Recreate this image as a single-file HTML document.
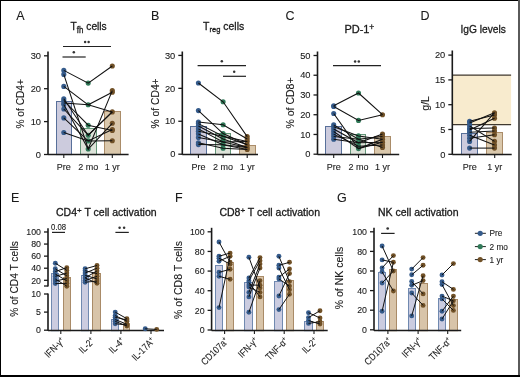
<!DOCTYPE html><html><head><meta charset="utf-8"><style>html,body{margin:0;padding:0;background:#fff;width:520px;height:377px;overflow:hidden}svg{display:block;will-change:transform;font-family:"Liberation Sans",sans-serif}text{stroke:#1a1a1a;stroke-width:0.1px}text.t{stroke-width:0.3px}</style></head><body><svg width="520" height="377" viewBox="0 0 520 377" fill="#1a1a1a">
<rect x="0" y="0" width="520" height="377" fill="#fff"/>
<text x="16.30" y="20.20" font-size="12.5" text-anchor="start" >A</text>
<text x="151.00" y="19.90" font-size="12.5" text-anchor="start" >B</text>
<text x="285.50" y="20.40" font-size="12.5" text-anchor="start" >C</text>
<text x="420.50" y="20.00" font-size="12.5" text-anchor="start" >D</text>
<text x="11.00" y="202.00" font-size="12.5" text-anchor="start" >E</text>
<text x="175.00" y="202.00" font-size="12.5" text-anchor="start" >F</text>
<text x="337.00" y="202.00" font-size="12.5" text-anchor="start" >G</text>
<line x1="48.00" y1="51.50" x2="48.00" y2="155.10" stroke="#1a1a1a" stroke-width="1.6"/>
<line x1="44.00" y1="154.50" x2="48.00" y2="154.50" stroke="#1a1a1a" stroke-width="1.3"/>
<text x="41.00" y="157.70" font-size="9.3" text-anchor="end" >0</text>
<line x1="44.00" y1="121.60" x2="48.00" y2="121.60" stroke="#1a1a1a" stroke-width="1.3"/>
<text x="41.00" y="124.80" font-size="9.3" text-anchor="end" >10</text>
<line x1="44.00" y1="88.70" x2="48.00" y2="88.70" stroke="#1a1a1a" stroke-width="1.3"/>
<text x="41.00" y="91.90" font-size="9.3" text-anchor="end" >20</text>
<line x1="44.00" y1="55.80" x2="48.00" y2="55.80" stroke="#1a1a1a" stroke-width="1.3"/>
<text x="41.00" y="59.00" font-size="9.3" text-anchor="end" >30</text>
<rect x="56.50" y="101.50" width="15.00" height="53.10" fill="#cccbdd" stroke="#58709a" stroke-width="1"/>
<rect x="80.50" y="128.50" width="16.00" height="26.10" fill="#dde3d9" stroke="#649678" stroke-width="1"/>
<rect x="104.50" y="111.50" width="16.00" height="43.10" fill="#dac8ac" stroke="#aa8c69" stroke-width="1"/>
<line x1="48.00" y1="154.50" x2="128.60" y2="154.50" stroke="#1a1a1a" stroke-width="1.3"/>
<line x1="63.80" y1="154.50" x2="63.80" y2="158.00" stroke="#1a1a1a" stroke-width="1.1"/>
<line x1="88.20" y1="154.50" x2="88.20" y2="158.00" stroke="#1a1a1a" stroke-width="1.1"/>
<line x1="112.30" y1="154.50" x2="112.30" y2="158.00" stroke="#1a1a1a" stroke-width="1.1"/>
<circle cx="63.80" cy="70.40" r="2.55" fill="#355b8b"/>
<circle cx="88.20" cy="83.10" r="2.55" fill="#317a59"/>
<circle cx="112.30" cy="66.00" r="2.55" fill="#715127"/>
<circle cx="63.80" cy="74.40" r="2.55" fill="#355b8b"/>
<circle cx="88.20" cy="149.00" r="2.55" fill="#317a59"/>
<circle cx="112.30" cy="90.60" r="2.55" fill="#715127"/>
<circle cx="63.80" cy="86.40" r="2.55" fill="#355b8b"/>
<circle cx="88.20" cy="104.80" r="2.55" fill="#317a59"/>
<circle cx="112.30" cy="92.20" r="2.55" fill="#715127"/>
<circle cx="63.80" cy="98.80" r="2.55" fill="#355b8b"/>
<circle cx="88.20" cy="135.20" r="2.55" fill="#317a59"/>
<circle cx="112.30" cy="111.90" r="2.55" fill="#715127"/>
<circle cx="63.80" cy="103.00" r="2.55" fill="#355b8b"/>
<circle cx="63.80" cy="104.50" r="2.55" fill="#355b8b"/>
<circle cx="112.30" cy="123.30" r="2.55" fill="#715127"/>
<circle cx="63.80" cy="109.00" r="2.55" fill="#355b8b"/>
<circle cx="63.80" cy="117.90" r="2.55" fill="#355b8b"/>
<circle cx="88.20" cy="140.90" r="2.55" fill="#317a59"/>
<circle cx="112.30" cy="129.50" r="2.55" fill="#715127"/>
<circle cx="63.80" cy="132.50" r="2.55" fill="#355b8b"/>
<circle cx="112.30" cy="140.70" r="2.55" fill="#715127"/>
<circle cx="63.80" cy="100.50" r="2.55" fill="#355b8b"/>
<circle cx="88.20" cy="125.20" r="2.55" fill="#317a59"/>
<circle cx="112.30" cy="130.40" r="2.55" fill="#715127"/>
<polyline points="63.80,70.40 88.20,83.10 112.30,66.00" fill="none" stroke="#111" stroke-width="1.05"/>
<polyline points="63.80,74.40 88.20,149.00 112.30,90.60" fill="none" stroke="#111" stroke-width="1.05"/>
<polyline points="63.80,86.40 88.20,104.80 112.30,92.20" fill="none" stroke="#111" stroke-width="1.05"/>
<polyline points="63.80,98.80 88.20,135.20 112.30,111.90" fill="none" stroke="#111" stroke-width="1.05"/>
<polyline points="63.80,103.00 88.20,104.80 112.30,111.90" fill="none" stroke="#111" stroke-width="1.05"/>
<polyline points="63.80,104.50 88.20,149.00 112.30,123.30" fill="none" stroke="#111" stroke-width="1.05"/>
<polyline points="63.80,109.00 88.20,135.20 112.30,111.90" fill="none" stroke="#111" stroke-width="1.05"/>
<polyline points="63.80,117.90 88.20,140.90 112.30,129.50" fill="none" stroke="#111" stroke-width="1.05"/>
<polyline points="63.80,132.50 88.20,140.90 112.30,140.70" fill="none" stroke="#111" stroke-width="1.05"/>
<polyline points="63.80,100.50 88.20,125.20 112.30,130.40" fill="none" stroke="#111" stroke-width="1.05"/>
<line x1="62.50" y1="57.00" x2="85.70" y2="57.00" stroke="#222" stroke-width="1.2"/>
<circle cx="73.80" cy="52.30" r="1.25" fill="#333"/>
<line x1="63.00" y1="46.50" x2="111.00" y2="46.50" stroke="#222" stroke-width="1.2"/>
<circle cx="85.10" cy="41.90" r="1.25" fill="#333"/>
<circle cx="88.60" cy="41.90" r="1.25" fill="#333"/>
<text x="23.80" y="103.80" font-size="10.2" text-anchor="middle" transform="rotate(-90 23.8 103.8)">% of CD4+</text>
<text class="t" x="0" y="0" font-size="11" transform="translate(70.6 30.2) scale(0.93 1)">T<tspan font-size="8.5" dy="2.8">fh</tspan><tspan dy="-2.8"> cells</tspan></text>
<text x="63.80" y="170.20" font-size="9" text-anchor="middle" >Pre</text>
<text x="88.20" y="170.20" font-size="9" text-anchor="middle" >2 mo</text>
<text x="112.30" y="170.20" font-size="9" text-anchor="middle" >1 yr</text>
<line x1="182.30" y1="51.50" x2="182.30" y2="154.80" stroke="#1a1a1a" stroke-width="1.6"/>
<line x1="178.30" y1="154.20" x2="182.30" y2="154.20" stroke="#1a1a1a" stroke-width="1.3"/>
<text x="175.30" y="157.40" font-size="9.3" text-anchor="end" >0</text>
<line x1="178.30" y1="121.27" x2="182.30" y2="121.27" stroke="#1a1a1a" stroke-width="1.3"/>
<text x="175.30" y="124.47" font-size="9.3" text-anchor="end" >10</text>
<line x1="178.30" y1="88.34" x2="182.30" y2="88.34" stroke="#1a1a1a" stroke-width="1.3"/>
<text x="175.30" y="91.54" font-size="9.3" text-anchor="end" >20</text>
<line x1="178.30" y1="55.41" x2="182.30" y2="55.41" stroke="#1a1a1a" stroke-width="1.3"/>
<text x="175.30" y="58.61" font-size="9.3" text-anchor="end" >30</text>
<rect x="190.50" y="126.50" width="16.00" height="28.10" fill="#cccbdd" stroke="#58709a" stroke-width="1"/>
<rect x="215.50" y="133.50" width="15.00" height="21.10" fill="#dde3d9" stroke="#649678" stroke-width="1"/>
<rect x="239.50" y="145.50" width="16.00" height="9.10" fill="#dac8ac" stroke="#aa8c69" stroke-width="1"/>
<line x1="182.30" y1="154.50" x2="258.00" y2="154.50" stroke="#1a1a1a" stroke-width="1.3"/>
<line x1="198.40" y1="154.50" x2="198.40" y2="158.00" stroke="#1a1a1a" stroke-width="1.1"/>
<line x1="223.10" y1="154.50" x2="223.10" y2="158.00" stroke="#1a1a1a" stroke-width="1.1"/>
<line x1="247.20" y1="154.50" x2="247.20" y2="158.00" stroke="#1a1a1a" stroke-width="1.1"/>
<circle cx="198.40" cy="83.00" r="2.55" fill="#355b8b"/>
<circle cx="223.10" cy="101.80" r="2.55" fill="#317a59"/>
<circle cx="247.20" cy="136.60" r="2.55" fill="#715127"/>
<circle cx="198.40" cy="110.60" r="2.55" fill="#355b8b"/>
<circle cx="223.10" cy="133.60" r="2.55" fill="#317a59"/>
<circle cx="247.20" cy="144.80" r="2.55" fill="#715127"/>
<circle cx="198.40" cy="122.00" r="2.55" fill="#355b8b"/>
<circle cx="223.10" cy="124.70" r="2.55" fill="#317a59"/>
<circle cx="247.20" cy="139.00" r="2.55" fill="#715127"/>
<circle cx="198.40" cy="123.60" r="2.55" fill="#355b8b"/>
<circle cx="223.10" cy="136.20" r="2.55" fill="#317a59"/>
<circle cx="247.20" cy="141.50" r="2.55" fill="#715127"/>
<circle cx="198.40" cy="126.00" r="2.55" fill="#355b8b"/>
<circle cx="223.10" cy="138.90" r="2.55" fill="#317a59"/>
<circle cx="247.20" cy="147.50" r="2.55" fill="#715127"/>
<circle cx="198.40" cy="128.90" r="2.55" fill="#355b8b"/>
<circle cx="223.10" cy="141.90" r="2.55" fill="#317a59"/>
<circle cx="198.40" cy="131.30" r="2.55" fill="#355b8b"/>
<circle cx="198.40" cy="134.00" r="2.55" fill="#355b8b"/>
<circle cx="223.10" cy="144.80" r="2.55" fill="#317a59"/>
<circle cx="247.20" cy="149.50" r="2.55" fill="#715127"/>
<circle cx="198.40" cy="137.50" r="2.55" fill="#355b8b"/>
<circle cx="198.40" cy="142.80" r="2.55" fill="#355b8b"/>
<circle cx="223.10" cy="148.20" r="2.55" fill="#317a59"/>
<circle cx="198.40" cy="144.60" r="2.55" fill="#355b8b"/>
<polyline points="198.40,83.00 223.10,101.80 247.20,136.60" fill="none" stroke="#111" stroke-width="1.05"/>
<polyline points="198.40,110.60 223.10,133.60 247.20,144.80" fill="none" stroke="#111" stroke-width="1.05"/>
<polyline points="198.40,122.00 223.10,124.70 247.20,139.00" fill="none" stroke="#111" stroke-width="1.05"/>
<polyline points="198.40,123.60 223.10,136.20 247.20,141.50" fill="none" stroke="#111" stroke-width="1.05"/>
<polyline points="198.40,126.00 223.10,138.90 247.20,147.50" fill="none" stroke="#111" stroke-width="1.05"/>
<polyline points="198.40,128.90 223.10,141.90 247.20,141.50" fill="none" stroke="#111" stroke-width="1.05"/>
<polyline points="198.40,131.30 223.10,136.20 247.20,144.80" fill="none" stroke="#111" stroke-width="1.05"/>
<polyline points="198.40,134.00 223.10,144.80 247.20,149.50" fill="none" stroke="#111" stroke-width="1.05"/>
<polyline points="198.40,137.50 223.10,141.90 247.20,147.50" fill="none" stroke="#111" stroke-width="1.05"/>
<polyline points="198.40,142.80 223.10,148.20 247.20,149.50" fill="none" stroke="#111" stroke-width="1.05"/>
<polyline points="198.40,144.60 223.10,144.80 247.20,147.50" fill="none" stroke="#111" stroke-width="1.05"/>
<line x1="197.60" y1="65.70" x2="246.00" y2="65.70" stroke="#222" stroke-width="1.2"/>
<circle cx="221.80" cy="61.30" r="1.25" fill="#333"/>
<line x1="223.00" y1="76.30" x2="246.00" y2="76.30" stroke="#222" stroke-width="1.2"/>
<circle cx="234.20" cy="71.70" r="1.25" fill="#333"/>
<text x="158.80" y="103.40" font-size="10.3" text-anchor="middle" transform="rotate(-90 158.8 103.4)">% of CD4+</text>
<text class="t" x="0" y="0" font-size="11" transform="translate(203 29.6) scale(0.95 1)">T<tspan font-size="8" dy="2.8">reg</tspan><tspan dy="-2.8"> cells</tspan></text>
<text x="198.40" y="170.20" font-size="9" text-anchor="middle" >Pre</text>
<text x="223.10" y="170.20" font-size="9" text-anchor="middle" >2 mo</text>
<text x="247.20" y="170.20" font-size="9" text-anchor="middle" >1 yr</text>
<line x1="317.50" y1="51.50" x2="317.50" y2="154.80" stroke="#1a1a1a" stroke-width="1.6"/>
<line x1="313.50" y1="154.20" x2="317.50" y2="154.20" stroke="#1a1a1a" stroke-width="1.3"/>
<text x="310.50" y="157.40" font-size="9.3" text-anchor="end" >0</text>
<line x1="313.50" y1="134.46" x2="317.50" y2="134.46" stroke="#1a1a1a" stroke-width="1.3"/>
<text x="310.50" y="137.66" font-size="9.3" text-anchor="end" >10</text>
<line x1="313.50" y1="114.72" x2="317.50" y2="114.72" stroke="#1a1a1a" stroke-width="1.3"/>
<text x="310.50" y="117.92" font-size="9.3" text-anchor="end" >20</text>
<line x1="313.50" y1="94.98" x2="317.50" y2="94.98" stroke="#1a1a1a" stroke-width="1.3"/>
<text x="310.50" y="98.18" font-size="9.3" text-anchor="end" >30</text>
<line x1="313.50" y1="75.24" x2="317.50" y2="75.24" stroke="#1a1a1a" stroke-width="1.3"/>
<text x="310.50" y="78.44" font-size="9.3" text-anchor="end" >40</text>
<line x1="313.50" y1="55.50" x2="317.50" y2="55.50" stroke="#1a1a1a" stroke-width="1.3"/>
<text x="310.50" y="58.70" font-size="9.3" text-anchor="end" >50</text>
<rect x="325.50" y="126.50" width="16.00" height="28.10" fill="#cccbdd" stroke="#58709a" stroke-width="1"/>
<rect x="350.50" y="134.50" width="15.00" height="20.10" fill="#dde3d9" stroke="#649678" stroke-width="1"/>
<rect x="374.50" y="136.50" width="16.00" height="18.10" fill="#dac8ac" stroke="#aa8c69" stroke-width="1"/>
<line x1="317.50" y1="154.50" x2="399.20" y2="154.50" stroke="#1a1a1a" stroke-width="1.3"/>
<line x1="333.70" y1="154.50" x2="333.70" y2="158.00" stroke="#1a1a1a" stroke-width="1.1"/>
<line x1="358.50" y1="154.50" x2="358.50" y2="158.00" stroke="#1a1a1a" stroke-width="1.1"/>
<line x1="382.50" y1="154.50" x2="382.50" y2="158.00" stroke="#1a1a1a" stroke-width="1.1"/>
<circle cx="333.70" cy="105.80" r="2.55" fill="#355b8b"/>
<circle cx="358.50" cy="93.00" r="2.55" fill="#317a59"/>
<circle cx="382.50" cy="114.70" r="2.55" fill="#715127"/>
<circle cx="333.70" cy="106.50" r="2.55" fill="#355b8b"/>
<circle cx="358.50" cy="120.40" r="2.55" fill="#317a59"/>
<circle cx="333.70" cy="113.50" r="2.55" fill="#355b8b"/>
<circle cx="358.50" cy="148.60" r="2.55" fill="#317a59"/>
<circle cx="382.50" cy="142.20" r="2.55" fill="#715127"/>
<circle cx="333.70" cy="124.90" r="2.55" fill="#355b8b"/>
<circle cx="358.50" cy="139.30" r="2.55" fill="#317a59"/>
<circle cx="382.50" cy="136.50" r="2.55" fill="#715127"/>
<circle cx="333.70" cy="126.70" r="2.55" fill="#355b8b"/>
<circle cx="358.50" cy="135.90" r="2.55" fill="#317a59"/>
<circle cx="382.50" cy="139.30" r="2.55" fill="#715127"/>
<circle cx="333.70" cy="129.00" r="2.55" fill="#355b8b"/>
<circle cx="358.50" cy="142.80" r="2.55" fill="#317a59"/>
<circle cx="382.50" cy="134.10" r="2.55" fill="#715127"/>
<circle cx="333.70" cy="134.10" r="2.55" fill="#355b8b"/>
<circle cx="358.50" cy="146.30" r="2.55" fill="#317a59"/>
<circle cx="382.50" cy="145.10" r="2.55" fill="#715127"/>
<circle cx="333.70" cy="136.50" r="2.55" fill="#355b8b"/>
<circle cx="382.50" cy="147.40" r="2.55" fill="#715127"/>
<circle cx="333.70" cy="139.30" r="2.55" fill="#355b8b"/>
<circle cx="333.70" cy="131.50" r="2.55" fill="#355b8b"/>
<polyline points="333.70,105.80 358.50,93.00 382.50,114.70" fill="none" stroke="#111" stroke-width="1.05"/>
<polyline points="333.70,106.50 358.50,120.40 382.50,114.70" fill="none" stroke="#111" stroke-width="1.05"/>
<polyline points="333.70,113.50 358.50,148.60 382.50,142.20" fill="none" stroke="#111" stroke-width="1.05"/>
<polyline points="333.70,124.90 358.50,139.30 382.50,136.50" fill="none" stroke="#111" stroke-width="1.05"/>
<polyline points="333.70,126.70 358.50,135.90 382.50,139.30" fill="none" stroke="#111" stroke-width="1.05"/>
<polyline points="333.70,129.00 358.50,142.80 382.50,134.10" fill="none" stroke="#111" stroke-width="1.05"/>
<polyline points="333.70,134.10 358.50,146.30 382.50,145.10" fill="none" stroke="#111" stroke-width="1.05"/>
<polyline points="333.70,136.50 358.50,139.30 382.50,147.40" fill="none" stroke="#111" stroke-width="1.05"/>
<polyline points="333.70,139.30 358.50,142.80 382.50,142.20" fill="none" stroke="#111" stroke-width="1.05"/>
<polyline points="333.70,131.50 358.50,148.60 382.50,139.30" fill="none" stroke="#111" stroke-width="1.05"/>
<line x1="333.00" y1="65.60" x2="381.00" y2="65.60" stroke="#222" stroke-width="1.2"/>
<circle cx="355.10" cy="61.60" r="1.25" fill="#333"/>
<circle cx="358.80" cy="61.60" r="1.25" fill="#333"/>
<text x="294.40" y="103.00" font-size="10.5" text-anchor="middle" transform="rotate(-90 294.4 103)">% of CD8+</text>
<text class="t" x="344.4" y="32.5" font-size="11">PD-1<tspan font-size="8.5" dy="-2.8" dx="-0.3">+</tspan></text>
<text x="333.70" y="170.20" font-size="9" text-anchor="middle" >Pre</text>
<text x="358.50" y="170.20" font-size="9" text-anchor="middle" >2 mo</text>
<text x="382.50" y="170.20" font-size="9" text-anchor="middle" >1 yr</text>
<rect x="452.3" y="75" width="58.8" height="49.6" fill="#f8ebce"/>
<line x1="452.30" y1="75.00" x2="511.10" y2="75.00" stroke="#40392f" stroke-width="1.25"/>
<line x1="452.30" y1="124.60" x2="511.10" y2="124.60" stroke="#40392f" stroke-width="1.25"/>
<line x1="452.30" y1="50.50" x2="452.30" y2="154.80" stroke="#1a1a1a" stroke-width="1.6"/>
<line x1="448.30" y1="154.30" x2="452.30" y2="154.30" stroke="#1a1a1a" stroke-width="1.3"/>
<text x="445.30" y="157.50" font-size="9.3" text-anchor="end" >0</text>
<line x1="448.30" y1="129.50" x2="452.30" y2="129.50" stroke="#1a1a1a" stroke-width="1.3"/>
<text x="445.30" y="132.70" font-size="9.3" text-anchor="end" >5</text>
<line x1="448.30" y1="104.70" x2="452.30" y2="104.70" stroke="#1a1a1a" stroke-width="1.3"/>
<text x="445.30" y="107.90" font-size="9.3" text-anchor="end" >10</text>
<line x1="448.30" y1="79.90" x2="452.30" y2="79.90" stroke="#1a1a1a" stroke-width="1.3"/>
<text x="445.30" y="83.10" font-size="9.3" text-anchor="end" >15</text>
<line x1="448.30" y1="55.10" x2="452.30" y2="55.10" stroke="#1a1a1a" stroke-width="1.3"/>
<text x="445.30" y="58.30" font-size="9.3" text-anchor="end" >20</text>
<rect x="461.50" y="133.50" width="16.00" height="21.10" fill="#cccbdd" stroke="#58709a" stroke-width="1"/>
<rect x="486.50" y="132.50" width="16.00" height="22.10" fill="#dac8ac" stroke="#aa8c69" stroke-width="1"/>
<line x1="452.30" y1="154.50" x2="511.70" y2="154.50" stroke="#1a1a1a" stroke-width="1.3"/>
<line x1="469.70" y1="154.50" x2="469.70" y2="158.00" stroke="#1a1a1a" stroke-width="1.1"/>
<line x1="494.70" y1="154.50" x2="494.70" y2="158.00" stroke="#1a1a1a" stroke-width="1.1"/>
<circle cx="469.60" cy="121.20" r="2.55" fill="#355b8b"/>
<circle cx="494.50" cy="115.10" r="2.55" fill="#715127"/>
<circle cx="469.60" cy="123.00" r="2.55" fill="#355b8b"/>
<circle cx="494.50" cy="112.70" r="2.55" fill="#715127"/>
<circle cx="469.60" cy="126.00" r="2.55" fill="#355b8b"/>
<circle cx="494.50" cy="141.40" r="2.55" fill="#715127"/>
<circle cx="469.60" cy="128.60" r="2.55" fill="#355b8b"/>
<circle cx="494.50" cy="128.00" r="2.55" fill="#715127"/>
<circle cx="469.60" cy="132.20" r="2.55" fill="#355b8b"/>
<circle cx="494.50" cy="131.00" r="2.55" fill="#715127"/>
<circle cx="469.60" cy="135.30" r="2.55" fill="#355b8b"/>
<circle cx="494.50" cy="145.00" r="2.55" fill="#715127"/>
<circle cx="469.60" cy="138.30" r="2.55" fill="#355b8b"/>
<circle cx="494.50" cy="134.70" r="2.55" fill="#715127"/>
<circle cx="469.60" cy="141.40" r="2.55" fill="#355b8b"/>
<circle cx="469.60" cy="148.10" r="2.55" fill="#355b8b"/>
<circle cx="494.50" cy="148.10" r="2.55" fill="#715127"/>
<circle cx="469.60" cy="130.00" r="2.55" fill="#355b8b"/>
<circle cx="494.50" cy="118.20" r="2.55" fill="#715127"/>
<polyline points="469.60,121.20 494.50,115.10" fill="none" stroke="#111" stroke-width="1.05"/>
<polyline points="469.60,123.00 494.50,112.70" fill="none" stroke="#111" stroke-width="1.05"/>
<polyline points="469.60,126.00 494.50,141.40" fill="none" stroke="#111" stroke-width="1.05"/>
<polyline points="469.60,128.60 494.50,128.00" fill="none" stroke="#111" stroke-width="1.05"/>
<polyline points="469.60,132.20 494.50,131.00" fill="none" stroke="#111" stroke-width="1.05"/>
<polyline points="469.60,135.30 494.50,145.00" fill="none" stroke="#111" stroke-width="1.05"/>
<polyline points="469.60,138.30 494.50,134.70" fill="none" stroke="#111" stroke-width="1.05"/>
<polyline points="469.60,141.40 494.50,112.70" fill="none" stroke="#111" stroke-width="1.05"/>
<polyline points="469.60,148.10 494.50,148.10" fill="none" stroke="#111" stroke-width="1.05"/>
<polyline points="469.60,130.00 494.50,118.20" fill="none" stroke="#111" stroke-width="1.05"/>
<text x="429.00" y="103.40" font-size="10.5" text-anchor="middle" transform="rotate(-90 429 103.4)">g/L</text>
<text class="t" x="0" y="0" font-size="11" transform="translate(460.4 32.5) scale(0.93 1)">IgG levels</text>
<text x="469.70" y="170.20" font-size="9" text-anchor="middle" >Pre</text>
<text x="494.70" y="170.20" font-size="9" text-anchor="middle" >1 yr</text>
<rect x="51.50" y="273.50" width="7.00" height="57.20" fill="#cbcce0" stroke="#7089b0" stroke-width="1"/>
<rect x="63.50" y="277.50" width="7.00" height="53.20" fill="#d8c4a9" stroke="#a98b68" stroke-width="1"/>
<rect x="81.50" y="275.50" width="7.00" height="55.20" fill="#cbcce0" stroke="#7089b0" stroke-width="1"/>
<rect x="92.50" y="273.50" width="8.00" height="57.20" fill="#d8c4a9" stroke="#a98b68" stroke-width="1"/>
<rect x="111.50" y="319.50" width="7.00" height="11.20" fill="#cbcce0" stroke="#7089b0" stroke-width="1"/>
<rect x="123.50" y="323.50" width="6.00" height="7.20" fill="#d8c4a9" stroke="#a98b68" stroke-width="1"/>
<line x1="48.00" y1="228.30" x2="48.00" y2="286.60" stroke="#1a1a1a" stroke-width="1.6"/>
<line x1="44.00" y1="280.30" x2="48.00" y2="280.30" stroke="#1a1a1a" stroke-width="1.3"/>
<text x="41.00" y="283.50" font-size="8.8" text-anchor="end" >20</text>
<line x1="44.00" y1="268.22" x2="48.00" y2="268.22" stroke="#1a1a1a" stroke-width="1.3"/>
<text x="41.00" y="271.42" font-size="8.8" text-anchor="end" >40</text>
<line x1="44.00" y1="256.14" x2="48.00" y2="256.14" stroke="#1a1a1a" stroke-width="1.3"/>
<text x="41.00" y="259.34" font-size="8.8" text-anchor="end" >60</text>
<line x1="44.00" y1="244.06" x2="48.00" y2="244.06" stroke="#1a1a1a" stroke-width="1.3"/>
<text x="41.00" y="247.26" font-size="8.8" text-anchor="end" >80</text>
<line x1="44.00" y1="231.98" x2="48.00" y2="231.98" stroke="#1a1a1a" stroke-width="1.3"/>
<text x="41.00" y="235.18" font-size="8.8" text-anchor="end" >100</text>
<line x1="44.00" y1="286.00" x2="48.00" y2="286.00" stroke="#1a1a1a" stroke-width="1.3"/>
<line x1="48.00" y1="293.40" x2="48.00" y2="330.80" stroke="#1a1a1a" stroke-width="1.6"/>
<line x1="44.00" y1="330.20" x2="48.00" y2="330.20" stroke="#1a1a1a" stroke-width="1.3"/>
<text x="41.00" y="333.40" font-size="8.8" text-anchor="end" >0</text>
<line x1="44.00" y1="312.10" x2="48.00" y2="312.10" stroke="#1a1a1a" stroke-width="1.3"/>
<text x="41.00" y="315.30" font-size="8.8" text-anchor="end" >5</text>
<line x1="44.00" y1="294.00" x2="48.00" y2="294.00" stroke="#1a1a1a" stroke-width="1.3"/>
<text x="41.00" y="297.20" font-size="8.8" text-anchor="end" >10</text>
<line x1="48.00" y1="330.50" x2="164.00" y2="330.50" stroke="#1a1a1a" stroke-width="1.3"/>
<line x1="60.80" y1="330.50" x2="60.80" y2="334.00" stroke="#1a1a1a" stroke-width="1.1"/>
<line x1="90.90" y1="330.50" x2="90.90" y2="334.00" stroke="#1a1a1a" stroke-width="1.1"/>
<line x1="120.90" y1="330.50" x2="120.90" y2="334.00" stroke="#1a1a1a" stroke-width="1.1"/>
<line x1="151.00" y1="330.50" x2="151.00" y2="334.00" stroke="#1a1a1a" stroke-width="1.1"/>
<circle cx="55.30" cy="263.20" r="2.45" fill="#355b8b"/>
<circle cx="66.80" cy="270.40" r="2.45" fill="#715127"/>
<circle cx="55.30" cy="268.80" r="2.45" fill="#355b8b"/>
<circle cx="66.80" cy="275.80" r="2.45" fill="#715127"/>
<circle cx="55.30" cy="271.50" r="2.45" fill="#355b8b"/>
<circle cx="66.80" cy="267.70" r="2.45" fill="#715127"/>
<circle cx="55.30" cy="274.00" r="2.45" fill="#355b8b"/>
<circle cx="66.80" cy="280.80" r="2.45" fill="#715127"/>
<circle cx="55.30" cy="276.30" r="2.45" fill="#355b8b"/>
<circle cx="66.80" cy="273.10" r="2.45" fill="#715127"/>
<circle cx="55.30" cy="279.00" r="2.45" fill="#355b8b"/>
<circle cx="66.80" cy="286.20" r="2.45" fill="#715127"/>
<circle cx="55.30" cy="281.10" r="2.45" fill="#355b8b"/>
<circle cx="66.80" cy="278.50" r="2.45" fill="#715127"/>
<circle cx="55.30" cy="283.60" r="2.45" fill="#355b8b"/>
<circle cx="66.80" cy="283.30" r="2.45" fill="#715127"/>
<polyline points="55.30,263.20 66.80,270.40" fill="none" stroke="#111" stroke-width="1"/>
<polyline points="55.30,268.80 66.80,275.80" fill="none" stroke="#111" stroke-width="1"/>
<polyline points="55.30,271.50 66.80,267.70" fill="none" stroke="#111" stroke-width="1"/>
<polyline points="55.30,274.00 66.80,280.80" fill="none" stroke="#111" stroke-width="1"/>
<polyline points="55.30,276.30 66.80,273.10" fill="none" stroke="#111" stroke-width="1"/>
<polyline points="55.30,279.00 66.80,286.20" fill="none" stroke="#111" stroke-width="1"/>
<polyline points="55.30,281.10 66.80,278.50" fill="none" stroke="#111" stroke-width="1"/>
<polyline points="55.30,283.60 66.80,283.30" fill="none" stroke="#111" stroke-width="1"/>
<circle cx="85.10" cy="268.80" r="2.45" fill="#355b8b"/>
<circle cx="97.00" cy="265.50" r="2.45" fill="#715127"/>
<circle cx="85.10" cy="270.70" r="2.45" fill="#355b8b"/>
<circle cx="97.00" cy="273.60" r="2.45" fill="#715127"/>
<circle cx="85.10" cy="273.10" r="2.45" fill="#355b8b"/>
<circle cx="97.00" cy="268.20" r="2.45" fill="#715127"/>
<circle cx="85.10" cy="275.20" r="2.45" fill="#355b8b"/>
<circle cx="97.00" cy="279.00" r="2.45" fill="#715127"/>
<circle cx="85.10" cy="277.90" r="2.45" fill="#355b8b"/>
<circle cx="97.00" cy="270.90" r="2.45" fill="#715127"/>
<circle cx="85.10" cy="280.60" r="2.45" fill="#355b8b"/>
<circle cx="97.00" cy="276.30" r="2.45" fill="#715127"/>
<circle cx="85.10" cy="282.20" r="2.45" fill="#355b8b"/>
<circle cx="97.00" cy="281.10" r="2.45" fill="#715127"/>
<circle cx="97.00" cy="283.30" r="2.45" fill="#715127"/>
<polyline points="85.10,268.80 97.00,265.50" fill="none" stroke="#111" stroke-width="1"/>
<polyline points="85.10,270.70 97.00,273.60" fill="none" stroke="#111" stroke-width="1"/>
<polyline points="85.10,273.10 97.00,268.20" fill="none" stroke="#111" stroke-width="1"/>
<polyline points="85.10,275.20 97.00,279.00" fill="none" stroke="#111" stroke-width="1"/>
<polyline points="85.10,277.90 97.00,270.90" fill="none" stroke="#111" stroke-width="1"/>
<polyline points="85.10,280.60 97.00,276.30" fill="none" stroke="#111" stroke-width="1"/>
<polyline points="85.10,282.20 97.00,281.10" fill="none" stroke="#111" stroke-width="1"/>
<polyline points="85.10,277.90 97.00,283.30" fill="none" stroke="#111" stroke-width="1"/>
<circle cx="115.20" cy="312.10" r="2.45" fill="#355b8b"/>
<circle cx="126.90" cy="318.70" r="2.45" fill="#715127"/>
<circle cx="115.20" cy="315.60" r="2.45" fill="#355b8b"/>
<circle cx="126.90" cy="321.30" r="2.45" fill="#715127"/>
<circle cx="115.20" cy="317.30" r="2.45" fill="#355b8b"/>
<circle cx="126.90" cy="320.00" r="2.45" fill="#715127"/>
<circle cx="115.20" cy="319.60" r="2.45" fill="#355b8b"/>
<circle cx="126.90" cy="324.20" r="2.45" fill="#715127"/>
<circle cx="115.20" cy="321.30" r="2.45" fill="#355b8b"/>
<circle cx="126.90" cy="326.00" r="2.45" fill="#715127"/>
<circle cx="115.20" cy="323.70" r="2.45" fill="#355b8b"/>
<circle cx="126.90" cy="325.00" r="2.45" fill="#715127"/>
<polyline points="115.20,312.10 126.90,318.70" fill="none" stroke="#111" stroke-width="1"/>
<polyline points="115.20,315.60 126.90,321.30" fill="none" stroke="#111" stroke-width="1"/>
<polyline points="115.20,317.30 126.90,320.00" fill="none" stroke="#111" stroke-width="1"/>
<polyline points="115.20,319.60 126.90,324.20" fill="none" stroke="#111" stroke-width="1"/>
<polyline points="115.20,321.30 126.90,326.00" fill="none" stroke="#111" stroke-width="1"/>
<polyline points="115.20,323.70 126.90,325.00" fill="none" stroke="#111" stroke-width="1"/>
<circle cx="145.20" cy="328.80" r="2.45" fill="#355b8b"/>
<circle cx="156.70" cy="329.40" r="2.45" fill="#715127"/>
<polyline points="145.20,328.80 156.70,329.40" fill="none" stroke="#111" stroke-width="1"/>
<line x1="52.00" y1="232.40" x2="65.00" y2="232.40" stroke="#222" stroke-width="1.2"/>
<text x="0" y="0" font-size="8.6" text-anchor="middle" transform="translate(58.6 229.6) scale(0.9 1)">0.08</text>
<line x1="115.40" y1="232.40" x2="128.80" y2="232.40" stroke="#222" stroke-width="1.2"/>
<circle cx="119.60" cy="227.80" r="1.25" fill="#333"/>
<circle cx="124.10" cy="227.80" r="1.25" fill="#333"/>
<text x="17.80" y="279.00" font-size="10.2" text-anchor="middle" transform="rotate(-90 17.8 279)">% of CD4 T cells</text>
<text class="t" x="56" y="216" font-size="10.5">CD4<tspan font-size="8" dy="-3.2">+</tspan><tspan dy="3.2"> T cell activation</tspan></text>
<text x="0" y="0" font-size="9.8" text-anchor="end" transform="translate(65.30 341.50) rotate(-45) scale(0.86 1)">IFN-γ<tspan font-size="6.5" dy="-3.5">+</tspan></text>
<text x="0" y="0" font-size="9.8" text-anchor="end" transform="translate(95.40 341.50) rotate(-45) scale(0.86 1)">IL-2<tspan font-size="6.5" dy="-3.5">+</tspan></text>
<text x="0" y="0" font-size="9.8" text-anchor="end" transform="translate(125.40 341.50) rotate(-45) scale(0.86 1)">IL-4<tspan font-size="6.5" dy="-3.5">+</tspan></text>
<text x="0" y="0" font-size="9.8" text-anchor="end" transform="translate(155.50 341.50) rotate(-45) scale(0.86 1)">IL-17A<tspan font-size="6.5" dy="-3.5">+</tspan></text>
<rect x="215.50" y="265.50" width="7.00" height="65.20" fill="#cbcce0" stroke="#7089b0" stroke-width="1"/>
<rect x="226.50" y="262.50" width="7.00" height="68.20" fill="#d8c4a9" stroke="#a98b68" stroke-width="1"/>
<rect x="244.50" y="282.50" width="8.00" height="48.20" fill="#cbcce0" stroke="#7089b0" stroke-width="1"/>
<rect x="256.50" y="276.50" width="7.00" height="54.20" fill="#d8c4a9" stroke="#a98b68" stroke-width="1"/>
<rect x="274.50" y="281.50" width="8.00" height="49.20" fill="#cbcce0" stroke="#7089b0" stroke-width="1"/>
<rect x="286.50" y="280.50" width="7.00" height="50.20" fill="#d8c4a9" stroke="#a98b68" stroke-width="1"/>
<rect x="304.50" y="321.50" width="8.00" height="9.20" fill="#cbcce0" stroke="#7089b0" stroke-width="1"/>
<rect x="316.50" y="321.50" width="7.00" height="9.20" fill="#d8c4a9" stroke="#a98b68" stroke-width="1"/>
<line x1="211.60" y1="227.80" x2="211.60" y2="330.60" stroke="#1a1a1a" stroke-width="1.6"/>
<line x1="207.60" y1="330.00" x2="211.60" y2="330.00" stroke="#1a1a1a" stroke-width="1.3"/>
<text x="204.60" y="333.20" font-size="8.8" text-anchor="end" >0</text>
<line x1="207.60" y1="310.36" x2="211.60" y2="310.36" stroke="#1a1a1a" stroke-width="1.3"/>
<text x="204.60" y="313.56" font-size="8.8" text-anchor="end" >20</text>
<line x1="207.60" y1="290.72" x2="211.60" y2="290.72" stroke="#1a1a1a" stroke-width="1.3"/>
<text x="204.60" y="293.92" font-size="8.8" text-anchor="end" >40</text>
<line x1="207.60" y1="271.08" x2="211.60" y2="271.08" stroke="#1a1a1a" stroke-width="1.3"/>
<text x="204.60" y="274.28" font-size="8.8" text-anchor="end" >60</text>
<line x1="207.60" y1="251.44" x2="211.60" y2="251.44" stroke="#1a1a1a" stroke-width="1.3"/>
<text x="204.60" y="254.64" font-size="8.8" text-anchor="end" >80</text>
<line x1="207.60" y1="231.80" x2="211.60" y2="231.80" stroke="#1a1a1a" stroke-width="1.3"/>
<text x="204.60" y="235.00" font-size="8.8" text-anchor="end" >100</text>
<line x1="211.60" y1="330.50" x2="327.70" y2="330.50" stroke="#1a1a1a" stroke-width="1.3"/>
<line x1="224.60" y1="330.50" x2="224.60" y2="334.00" stroke="#1a1a1a" stroke-width="1.1"/>
<line x1="254.40" y1="330.50" x2="254.40" y2="334.00" stroke="#1a1a1a" stroke-width="1.1"/>
<line x1="284.20" y1="330.50" x2="284.20" y2="334.00" stroke="#1a1a1a" stroke-width="1.1"/>
<line x1="314.00" y1="330.50" x2="314.00" y2="334.00" stroke="#1a1a1a" stroke-width="1.1"/>
<circle cx="219.00" cy="242.00" r="2.45" fill="#355b8b"/>
<circle cx="230.10" cy="262.20" r="2.45" fill="#715127"/>
<circle cx="219.00" cy="256.20" r="2.45" fill="#355b8b"/>
<circle cx="230.10" cy="253.10" r="2.45" fill="#715127"/>
<circle cx="219.00" cy="258.20" r="2.45" fill="#355b8b"/>
<circle cx="230.10" cy="264.20" r="2.45" fill="#715127"/>
<circle cx="219.00" cy="261.20" r="2.45" fill="#355b8b"/>
<circle cx="230.10" cy="256.20" r="2.45" fill="#715127"/>
<circle cx="219.00" cy="272.30" r="2.45" fill="#355b8b"/>
<circle cx="230.10" cy="269.30" r="2.45" fill="#715127"/>
<circle cx="219.00" cy="276.30" r="2.45" fill="#355b8b"/>
<circle cx="230.10" cy="279.30" r="2.45" fill="#715127"/>
<circle cx="219.00" cy="307.60" r="2.45" fill="#355b8b"/>
<polyline points="219.00,242.00 230.10,262.20" fill="none" stroke="#111" stroke-width="1"/>
<polyline points="219.00,256.20 230.10,253.10" fill="none" stroke="#111" stroke-width="1"/>
<polyline points="219.00,258.20 230.10,264.20" fill="none" stroke="#111" stroke-width="1"/>
<polyline points="219.00,261.20 230.10,256.20" fill="none" stroke="#111" stroke-width="1"/>
<polyline points="219.00,272.30 230.10,269.30" fill="none" stroke="#111" stroke-width="1"/>
<polyline points="219.00,276.30 230.10,279.30" fill="none" stroke="#111" stroke-width="1"/>
<polyline points="219.00,307.60 230.10,256.20" fill="none" stroke="#111" stroke-width="1"/>
<circle cx="248.90" cy="257.20" r="2.45" fill="#355b8b"/>
<circle cx="260.00" cy="287.90" r="2.45" fill="#715127"/>
<circle cx="248.90" cy="278.00" r="2.45" fill="#355b8b"/>
<circle cx="260.00" cy="257.60" r="2.45" fill="#715127"/>
<circle cx="248.90" cy="280.70" r="2.45" fill="#355b8b"/>
<circle cx="260.00" cy="260.80" r="2.45" fill="#715127"/>
<circle cx="248.90" cy="282.50" r="2.45" fill="#355b8b"/>
<circle cx="260.00" cy="296.90" r="2.45" fill="#715127"/>
<circle cx="248.90" cy="292.40" r="2.45" fill="#355b8b"/>
<circle cx="260.00" cy="264.10" r="2.45" fill="#715127"/>
<circle cx="248.90" cy="296.90" r="2.45" fill="#355b8b"/>
<circle cx="260.00" cy="268.00" r="2.45" fill="#715127"/>
<circle cx="248.90" cy="312.30" r="2.45" fill="#355b8b"/>
<circle cx="260.00" cy="280.70" r="2.45" fill="#715127"/>
<circle cx="248.90" cy="287.00" r="2.45" fill="#355b8b"/>
<circle cx="260.00" cy="292.40" r="2.45" fill="#715127"/>
<circle cx="248.90" cy="285.00" r="2.45" fill="#355b8b"/>
<circle cx="260.00" cy="285.20" r="2.45" fill="#715127"/>
<polyline points="248.90,257.20 260.00,287.90" fill="none" stroke="#111" stroke-width="1"/>
<polyline points="248.90,278.00 260.00,257.60" fill="none" stroke="#111" stroke-width="1"/>
<polyline points="248.90,280.70 260.00,260.80" fill="none" stroke="#111" stroke-width="1"/>
<polyline points="248.90,282.50 260.00,296.90" fill="none" stroke="#111" stroke-width="1"/>
<polyline points="248.90,292.40 260.00,264.10" fill="none" stroke="#111" stroke-width="1"/>
<polyline points="248.90,296.90 260.00,268.00" fill="none" stroke="#111" stroke-width="1"/>
<polyline points="248.90,312.30 260.00,280.70" fill="none" stroke="#111" stroke-width="1"/>
<polyline points="248.90,287.00 260.00,292.40" fill="none" stroke="#111" stroke-width="1"/>
<polyline points="248.90,285.00 260.00,285.20" fill="none" stroke="#111" stroke-width="1"/>
<circle cx="278.90" cy="256.30" r="2.45" fill="#355b8b"/>
<circle cx="289.50" cy="281.60" r="2.45" fill="#715127"/>
<circle cx="278.90" cy="265.30" r="2.45" fill="#355b8b"/>
<circle cx="289.50" cy="262.30" r="2.45" fill="#715127"/>
<circle cx="278.90" cy="268.00" r="2.45" fill="#355b8b"/>
<circle cx="289.50" cy="289.70" r="2.45" fill="#715127"/>
<circle cx="278.90" cy="277.10" r="2.45" fill="#355b8b"/>
<circle cx="289.50" cy="269.00" r="2.45" fill="#715127"/>
<circle cx="278.90" cy="278.90" r="2.45" fill="#355b8b"/>
<circle cx="289.50" cy="286.10" r="2.45" fill="#715127"/>
<circle cx="278.90" cy="296.00" r="2.45" fill="#355b8b"/>
<circle cx="289.50" cy="273.50" r="2.45" fill="#715127"/>
<circle cx="278.90" cy="309.60" r="2.45" fill="#355b8b"/>
<circle cx="289.50" cy="294.20" r="2.45" fill="#715127"/>
<polyline points="278.90,256.30 289.50,281.60" fill="none" stroke="#111" stroke-width="1"/>
<polyline points="278.90,265.30 289.50,262.30" fill="none" stroke="#111" stroke-width="1"/>
<polyline points="278.90,268.00 289.50,289.70" fill="none" stroke="#111" stroke-width="1"/>
<polyline points="278.90,277.10 289.50,269.00" fill="none" stroke="#111" stroke-width="1"/>
<polyline points="278.90,278.90 289.50,286.10" fill="none" stroke="#111" stroke-width="1"/>
<polyline points="278.90,296.00 289.50,273.50" fill="none" stroke="#111" stroke-width="1"/>
<polyline points="278.90,309.60 289.50,294.20" fill="none" stroke="#111" stroke-width="1"/>
<circle cx="308.50" cy="312.70" r="2.45" fill="#355b8b"/>
<circle cx="320.00" cy="318.00" r="2.45" fill="#715127"/>
<circle cx="308.50" cy="317.60" r="2.45" fill="#355b8b"/>
<circle cx="320.00" cy="310.70" r="2.45" fill="#715127"/>
<circle cx="308.50" cy="320.50" r="2.45" fill="#355b8b"/>
<circle cx="320.00" cy="324.10" r="2.45" fill="#715127"/>
<circle cx="308.50" cy="323.40" r="2.45" fill="#355b8b"/>
<circle cx="320.00" cy="321.70" r="2.45" fill="#715127"/>
<polyline points="308.50,312.70 320.00,318.00" fill="none" stroke="#111" stroke-width="1"/>
<polyline points="308.50,317.60 320.00,310.70" fill="none" stroke="#111" stroke-width="1"/>
<polyline points="308.50,320.50 320.00,324.10" fill="none" stroke="#111" stroke-width="1"/>
<polyline points="308.50,323.40 320.00,321.70" fill="none" stroke="#111" stroke-width="1"/>
<text x="181.70" y="280.00" font-size="10.5" text-anchor="middle" transform="rotate(-90 181.7 280)">% of CD8 T cells</text>
<text class="t" x="219.4" y="216" font-size="10.5">CD8<tspan font-size="8" dy="-3.2">+</tspan><tspan dy="3.2"> T cell activation</tspan></text>
<text x="0" y="0" font-size="9.8" text-anchor="end" transform="translate(229.10 341.50) rotate(-45) scale(0.86 1)">CD107a<tspan font-size="6.5" dy="-3.5">+</tspan></text>
<text x="0" y="0" font-size="9.8" text-anchor="end" transform="translate(258.90 341.50) rotate(-45) scale(0.86 1)">IFN-γ<tspan font-size="6.5" dy="-3.5">+</tspan></text>
<text x="0" y="0" font-size="9.8" text-anchor="end" transform="translate(288.70 341.50) rotate(-45) scale(0.86 1)">TNF-α<tspan font-size="6.5" dy="-3.5">+</tspan></text>
<text x="0" y="0" font-size="9.8" text-anchor="end" transform="translate(318.50 341.50) rotate(-45) scale(0.86 1)">IL-2<tspan font-size="6.5" dy="-3.5">+</tspan></text>
<rect x="378.50" y="272.50" width="7.00" height="58.20" fill="#cbcce0" stroke="#7089b0" stroke-width="1"/>
<rect x="389.50" y="269.50" width="7.00" height="61.20" fill="#d8c4a9" stroke="#a98b68" stroke-width="1"/>
<rect x="408.50" y="288.50" width="7.00" height="42.20" fill="#cbcce0" stroke="#7089b0" stroke-width="1"/>
<rect x="419.50" y="283.50" width="8.00" height="47.20" fill="#d8c4a9" stroke="#a98b68" stroke-width="1"/>
<rect x="438.50" y="298.50" width="7.00" height="32.20" fill="#cbcce0" stroke="#7089b0" stroke-width="1"/>
<rect x="449.50" y="299.50" width="8.00" height="31.20" fill="#d8c4a9" stroke="#a98b68" stroke-width="1"/>
<line x1="374.00" y1="227.80" x2="374.00" y2="330.40" stroke="#1a1a1a" stroke-width="1.6"/>
<line x1="370.00" y1="329.80" x2="374.00" y2="329.80" stroke="#1a1a1a" stroke-width="1.3"/>
<text x="367.00" y="333.00" font-size="8.8" text-anchor="end" >0</text>
<line x1="370.00" y1="310.20" x2="374.00" y2="310.20" stroke="#1a1a1a" stroke-width="1.3"/>
<text x="367.00" y="313.40" font-size="8.8" text-anchor="end" >20</text>
<line x1="370.00" y1="290.60" x2="374.00" y2="290.60" stroke="#1a1a1a" stroke-width="1.3"/>
<text x="367.00" y="293.80" font-size="8.8" text-anchor="end" >40</text>
<line x1="370.00" y1="271.00" x2="374.00" y2="271.00" stroke="#1a1a1a" stroke-width="1.3"/>
<text x="367.00" y="274.20" font-size="8.8" text-anchor="end" >60</text>
<line x1="370.00" y1="251.40" x2="374.00" y2="251.40" stroke="#1a1a1a" stroke-width="1.3"/>
<text x="367.00" y="254.60" font-size="8.8" text-anchor="end" >80</text>
<line x1="370.00" y1="231.80" x2="374.00" y2="231.80" stroke="#1a1a1a" stroke-width="1.3"/>
<text x="367.00" y="235.00" font-size="8.8" text-anchor="end" >100</text>
<line x1="374.00" y1="330.50" x2="461.20" y2="330.50" stroke="#1a1a1a" stroke-width="1.3"/>
<line x1="387.90" y1="330.50" x2="387.90" y2="334.00" stroke="#1a1a1a" stroke-width="1.1"/>
<line x1="418.10" y1="330.50" x2="418.10" y2="334.00" stroke="#1a1a1a" stroke-width="1.1"/>
<line x1="447.70" y1="330.50" x2="447.70" y2="334.00" stroke="#1a1a1a" stroke-width="1.1"/>
<circle cx="382.10" cy="246.00" r="2.45" fill="#355b8b"/>
<circle cx="393.40" cy="271.00" r="2.45" fill="#715127"/>
<circle cx="382.10" cy="259.90" r="2.45" fill="#355b8b"/>
<circle cx="393.40" cy="262.30" r="2.45" fill="#715127"/>
<circle cx="382.10" cy="267.90" r="2.45" fill="#355b8b"/>
<circle cx="393.40" cy="255.60" r="2.45" fill="#715127"/>
<circle cx="382.10" cy="271.80" r="2.45" fill="#355b8b"/>
<circle cx="393.40" cy="291.00" r="2.45" fill="#715127"/>
<circle cx="382.10" cy="283.00" r="2.45" fill="#355b8b"/>
<circle cx="382.10" cy="311.20" r="2.45" fill="#355b8b"/>
<polyline points="382.10,246.00 393.40,271.00" fill="none" stroke="#111" stroke-width="1"/>
<polyline points="382.10,259.90 393.40,262.30" fill="none" stroke="#111" stroke-width="1"/>
<polyline points="382.10,267.90 393.40,255.60" fill="none" stroke="#111" stroke-width="1"/>
<polyline points="382.10,271.80 393.40,291.00" fill="none" stroke="#111" stroke-width="1"/>
<polyline points="382.10,283.00 393.40,271.00" fill="none" stroke="#111" stroke-width="1"/>
<polyline points="382.10,311.20 393.40,262.30" fill="none" stroke="#111" stroke-width="1"/>
<circle cx="411.70" cy="269.10" r="2.45" fill="#355b8b"/>
<circle cx="423.10" cy="257.60" r="2.45" fill="#715127"/>
<circle cx="411.70" cy="274.80" r="2.45" fill="#355b8b"/>
<circle cx="423.10" cy="265.30" r="2.45" fill="#715127"/>
<circle cx="411.70" cy="281.50" r="2.45" fill="#355b8b"/>
<circle cx="423.10" cy="293.90" r="2.45" fill="#715127"/>
<circle cx="411.70" cy="285.30" r="2.45" fill="#355b8b"/>
<circle cx="423.10" cy="280.60" r="2.45" fill="#715127"/>
<circle cx="411.70" cy="293.00" r="2.45" fill="#355b8b"/>
<circle cx="423.10" cy="305.40" r="2.45" fill="#715127"/>
<circle cx="411.70" cy="315.90" r="2.45" fill="#355b8b"/>
<circle cx="423.10" cy="275.80" r="2.45" fill="#715127"/>
<polyline points="411.70,269.10 423.10,257.60" fill="none" stroke="#111" stroke-width="1"/>
<polyline points="411.70,274.80 423.10,265.30" fill="none" stroke="#111" stroke-width="1"/>
<polyline points="411.70,281.50 423.10,293.90" fill="none" stroke="#111" stroke-width="1"/>
<polyline points="411.70,285.30 423.10,280.60" fill="none" stroke="#111" stroke-width="1"/>
<polyline points="411.70,293.00 423.10,305.40" fill="none" stroke="#111" stroke-width="1"/>
<polyline points="411.70,315.90 423.10,275.80" fill="none" stroke="#111" stroke-width="1"/>
<circle cx="442.00" cy="275.00" r="2.45" fill="#355b8b"/>
<circle cx="453.40" cy="263.60" r="2.45" fill="#715127"/>
<circle cx="442.00" cy="281.70" r="2.45" fill="#355b8b"/>
<circle cx="453.40" cy="289.40" r="2.45" fill="#715127"/>
<circle cx="442.00" cy="284.60" r="2.45" fill="#355b8b"/>
<circle cx="453.40" cy="305.60" r="2.45" fill="#715127"/>
<circle cx="442.00" cy="296.10" r="2.45" fill="#355b8b"/>
<circle cx="453.40" cy="300.80" r="2.45" fill="#715127"/>
<circle cx="442.00" cy="298.90" r="2.45" fill="#355b8b"/>
<circle cx="453.40" cy="310.40" r="2.45" fill="#715127"/>
<circle cx="442.00" cy="311.30" r="2.45" fill="#355b8b"/>
<circle cx="453.40" cy="296.10" r="2.45" fill="#715127"/>
<circle cx="442.00" cy="319.00" r="2.45" fill="#355b8b"/>
<polyline points="442.00,275.00 453.40,263.60" fill="none" stroke="#111" stroke-width="1"/>
<polyline points="442.00,281.70 453.40,289.40" fill="none" stroke="#111" stroke-width="1"/>
<polyline points="442.00,284.60 453.40,305.60" fill="none" stroke="#111" stroke-width="1"/>
<polyline points="442.00,296.10 453.40,300.80" fill="none" stroke="#111" stroke-width="1"/>
<polyline points="442.00,298.90 453.40,310.40" fill="none" stroke="#111" stroke-width="1"/>
<polyline points="442.00,311.30 453.40,296.10" fill="none" stroke="#111" stroke-width="1"/>
<polyline points="442.00,319.00 453.40,300.80" fill="none" stroke="#111" stroke-width="1"/>
<line x1="381.10" y1="233.40" x2="394.60" y2="233.40" stroke="#222" stroke-width="1.2"/>
<circle cx="387.70" cy="228.50" r="1.35" fill="#333"/>
<text x="343.00" y="278.00" font-size="10.5" text-anchor="middle" transform="rotate(-90 343 278)">% of NK cells</text>
<text x="378.00" y="216.00" font-size="10.5" text-anchor="start" class="t">NK cell activation</text>
<text x="0" y="0" font-size="9.8" text-anchor="end" transform="translate(392.40 341.50) rotate(-45) scale(0.86 1)">CD107a<tspan font-size="6.5" dy="-3.5">+</tspan></text>
<text x="0" y="0" font-size="9.8" text-anchor="end" transform="translate(422.60 341.50) rotate(-45) scale(0.86 1)">IFN-γ<tspan font-size="6.5" dy="-3.5">+</tspan></text>
<text x="0" y="0" font-size="9.8" text-anchor="end" transform="translate(452.20 341.50) rotate(-45) scale(0.86 1)">TNF-α<tspan font-size="6.5" dy="-3.5">+</tspan></text>
<line x1="474.90" y1="233.30" x2="485.90" y2="233.30" stroke="#222" stroke-width="1"/>
<circle cx="480.20" cy="233.30" r="2.6" fill="#355b8b"/>
<text x="489.50" y="236.30" font-size="8.3" text-anchor="start" >Pre</text>
<line x1="474.90" y1="246.60" x2="485.90" y2="246.60" stroke="#222" stroke-width="1"/>
<circle cx="480.20" cy="246.60" r="2.6" fill="#317a59"/>
<text x="489.50" y="249.60" font-size="8.3" text-anchor="start" >2 mo</text>
<line x1="474.90" y1="259.60" x2="485.90" y2="259.60" stroke="#222" stroke-width="1"/>
<circle cx="480.20" cy="259.60" r="2.6" fill="#715127"/>
<text x="489.50" y="262.60" font-size="8.3" text-anchor="start" >1 yr</text>
<rect x="0" y="0" width="520" height="1" fill="#000"/>
<rect x="0" y="0" width="1" height="377" fill="#000"/>
<rect x="518" y="0" width="2" height="377" fill="#5a5a5a"/>
<rect x="0" y="375" width="520" height="2" fill="#000"/>
</svg></body></html>
